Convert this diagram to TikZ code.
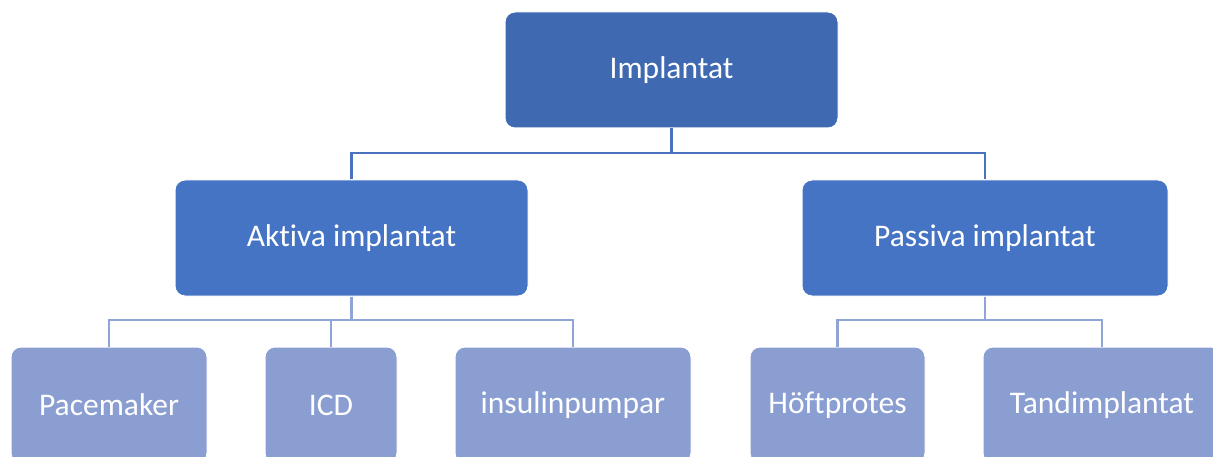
\documentclass[tikz,border=0pt]{standalone}
\usepackage{fontspec}
\setmainfont[Ligatures={NoCommon}]{Carlito}
\begin{document}
\begin{tikzpicture}[x=1pt,y=-1pt,
  box/.style={draw=white,line width=1pt,rounded corners=10pt,inner sep=0pt,text=white,
    font=\fontsize{31.5}{36}\selectfont},
  lvlA/.style={box,fill=topc,minimum width=333pt,minimum height=116pt},
  lvlB/.style={box,fill=midc,minimum height=116pt},
  lvlC/.style={box,fill=lowc,minimum height=116pt},
  connA/.style={draw=lineA,line width=2.6pt},
  connB/.style={draw=lineB,line width=2.6pt}]
\definecolor{topc}{HTML}{3F69B1}
\definecolor{midc}{HTML}{4674C5}
\definecolor{lowc}{HTML}{8A9ED2}
\definecolor{lineA}{HTML}{4A72BE}
\definecolor{lineB}{HTML}{8FA5D8}
\useasboundingbox (0,0) rectangle (1213,457);
\clip (0,0) rectangle (1213,457);
\node[lvlA] (top) at (671.5,70) {Implantat};
\node[lvlB,minimum width=353pt] (akt) at (351.5,238) {Aktiva implantat};
\node[lvlB,minimum width=366pt] (pas) at (985,238) {Passiva implantat};
\node[lvlC,minimum width=196pt] (pace) at (109,405) {Pacemaker};
\node[lvlC,minimum width=132pt] (icd) at (331,405) {ICD};
\node[lvlC,minimum width=236pt] (ins) at (573,405) {insulinpumpar};
\node[lvlC,minimum width=175pt] (hof) at (837.5,405) {Höftprotes};
\node[lvlC,minimum width=238pt] (tand) at (1102,405) {Tandimplantat};
\coordinate (j1) at (671.5,153);
\coordinate (j2) at (351.5,320);
\coordinate (j3) at (985,320);
\draw[connA] (top.south) -- (j1);
\draw[connA] (akt.north) |- (j1) -| (pas.north);
\draw[connB] (akt.south) -- (j2);
\draw[connB] (pace.north) |- (j2) -| (ins.north);
\draw[connB] (icd.north) -- (icd.north |- j2);
\draw[connB] (pas.south) -- (j3);
\draw[connB] (hof.north) |- (j3) -| (tand.north);
\end{tikzpicture}
\end{document}
